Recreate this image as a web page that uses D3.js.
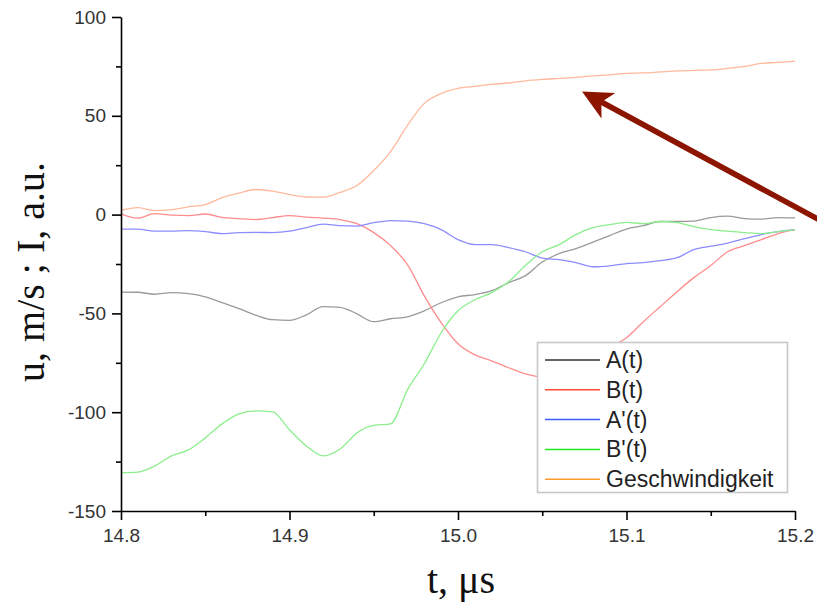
<!DOCTYPE html>
<html>
<head>
<meta charset="utf-8">
<script src="https://cdn.jsdelivr.net/npm/d3@7"></script>
<style>
  html, body { margin: 0; padding: 0; background: #fff; }
  svg { display: block; }
</style>
</head>
<body>
<svg id="chart" width="817" height="604"></svg>
<script>
// ---------------- data ----------------
const time = [14.80,14.81,14.82,14.83,14.84,14.85,14.86,14.87,14.88,14.89,
              14.90,14.91,14.92,14.93,14.94,14.95,14.96,14.97,14.98,14.99,
              15.00,15.01,15.02,15.03,15.04,15.05,15.06,15.07,15.08,15.09,
              15.10,15.11,15.12,15.13,15.14,15.15,15.16,15.17,15.18,15.19,15.20];

const seriesA = [-39.2,-39.3,-40.3,-39.5,-40.0,-41.6,-44.6,-47.6,-50.9,-53.2,
                 -53.5,-50.7,-46.6,-46.9,-50.2,-54.2,-52.7,-51.7,-48.7,-44.6,
                 -41.6,-40.5,-38.5,-34.5,-30.9,-24.0,-19.8,-17.2,-13.9,-10.6,
                 -7.3,-5.6,-3.5,-3.5,-3.3,-1.5,-0.8,-2.0,-2.3,-1.5,-1.7];

const seriesB = [0.4,-1.8,0.5,-0.3,-0.5,0.3,-1.4,-2.0,-2.5,-1.5,
                 -0.5,-1.3,-1.8,-2.5,-4.6,-9.1,-15.7,-25.3,-41.1,-54.7,
                 -65.4,-71.0,-74.0,-77.5,-80.6,-82.1,-81.1,-77.5,-73.5,-67.4,
                 -62.3,-54.2,-46.6,-39.0,-31.9,-25.8,-18.8,-15.7,-12.7,-9.6,-7.6];

const seriesA2 = [-7.3,-7.4,-8.4,-8.4,-8.1,-8.6,-9.6,-9.1,-9.0,-9.1,
                  -8.4,-6.6,-4.8,-5.6,-5.8,-4.1,-3.0,-3.3,-4.6,-7.6,
                  -12.7,-15.2,-15.2,-16.7,-18.8,-22.0,-22.8,-24.3,-26.4,-25.9,
                  -24.8,-24.3,-23.3,-21.8,-17.7,-16.0,-14.4,-12.2,-10.1,-8.6,-7.6];

const seriesB2 = [-130.6,-130.3,-127.2,-122.1,-119.1,-113.0,-105.9,-100.9,-99.3,-99.8,
                  -108.9,-117.1,-122.1,-118.6,-110.5,-106.7,-105.9,-88.7,-75.5,-59.8,
                  -48.7,-43.1,-39.5,-34.0,-25.8,-18.8,-15.2,-10.1,-6.6,-5.1,
                  -3.9,-4.6,-3.5,-4.1,-6.1,-7.6,-8.4,-9.1,-9.6,-8.6,-7.6];

const seriesV = [2.2,3.5,2.0,2.5,3.9,5.1,8.6,10.9,12.7,11.9,
                 10.1,8.9,8.8,11.2,14.7,22.3,31.9,45.1,56.3,61.3,
                 63.9,64.9,65.9,66.6,67.7,68.4,68.9,69.4,70.2,70.7,
                 71.5,71.7,72.2,72.7,73.0,73.2,74.0,75.0,76.5,77.0,77.7];

const seriesNames = ["A(t)", "B(t)", "A'(t)", "B'(t)", "Geschwindigkeit"];
const legendColors = ["#333333", "#ff4a3a", "#3a5cff", "#1ee81e", "#ff9a2e"];
const curveColors  = ["#9a9a9a", "#ff8c8c", "#8c8cff", "#8cee8c", "#ffb99c"];

const xTicks = [14.8, 14.9, 15.0, 15.1, 15.2];
const xMinorTicks = [14.85, 14.95, 15.05, 15.15];
const yTicks = [-150, -100, -50, 0, 50, 100];
const yMinorTicks = [-125, -75, -25, 25, 75];

// annotation arrow (data units): from tail to head
const arrowTail = [15.214, -2.5];
const arrowHead = [15.0736, 62.3];

// ---------------- drawing ----------------
const svg = d3.select("#chart");

const x = d3.scaleLinear().domain([14.8, 15.2]).range([121, 795]);
const y = d3.scaleLinear().domain([-150, 100]).range([511, 17]);

const tickFont = "'Liberation Sans', Arial, sans-serif";

// curves
const allSeries = [seriesA, seriesB, seriesA2, seriesB2, seriesV];
const line = d3.line()
  .x((d, i) => x(time[i]))
  .y(d => y(d))
  .curve(d3.curveMonotoneX);

const curves = svg.append("g").attr("class", "curves");
allSeries.forEach((s, k) => {
  curves.append("path")
    .datum(s)
    .attr("d", line)
    .attr("fill", "none")
    .attr("stroke", curveColors[k])
    .attr("stroke-width", 1.3)
    .attr("stroke-linejoin", "round");
});

// axes
function styleAxis(g) {
  g.selectAll(".domain").attr("stroke", "#000").attr("stroke-width", 1.6);
  g.selectAll(".tick line").attr("stroke", "#000").attr("stroke-width", 1.6);
  g.selectAll(".tick text")
    .attr("fill", "#333")
    .style("font-family", tickFont)
    .style("font-size", "19px");
}

const xAxisG = svg.append("g")
  .attr("transform", `translate(0,${y(-150)})`)
  .call(d3.axisBottom(x).tickValues(xTicks).tickSizeInner(9).tickSizeOuter(0)
        .tickPadding(9).tickFormat(d => d.toFixed(1)));
styleAxis(xAxisG);

const xMinorG = svg.append("g")
  .attr("transform", `translate(0,${y(-150)})`)
  .call(d3.axisBottom(x).tickValues(xMinorTicks).tickSizeInner(5).tickSizeOuter(0).tickFormat(""));
styleAxis(xMinorG);
xMinorG.select(".domain").remove();

const yAxisG = svg.append("g")
  .attr("transform", `translate(${x(14.8)},0)`)
  .call(d3.axisLeft(y).tickValues(yTicks).tickSizeInner(9).tickSizeOuter(0).tickPadding(6)
        .tickFormat(d => String(d)));
styleAxis(yAxisG);

const yMinorG = svg.append("g")
  .attr("transform", `translate(${x(14.8)},0)`)
  .call(d3.axisLeft(y).tickValues(yMinorTicks).tickSizeInner(5).tickSizeOuter(0).tickFormat(""));
styleAxis(yMinorG);
yMinorG.select(".domain").remove();

// axis titles
const serif = "'Liberation Serif', 'Times New Roman', serif";
svg.append("text")
  .attr("x", 461).attr("y", 593)
  .attr("text-anchor", "middle")
  .style("font-family", serif).style("font-size", "40px")
  .attr("fill", "#111")
  .text("t, \u03bcs");

svg.append("text")
  .attr("transform", "translate(44,272) rotate(-90)")
  .attr("text-anchor", "middle")
  .style("font-family", serif).style("font-size", "40px")
  .attr("fill", "#111")
  .text("u, m/s ; I, a.u.");

// legend
const legend = svg.append("g").attr("class", "legend");
legend.append("rect")
  .attr("x", 537.5).attr("y", 342.5).attr("width", 250).attr("height", 150)
  .attr("fill", "#fff").attr("stroke", "#c8c8c8").attr("stroke-width", 1.6);
seriesNames.forEach((name, k) => {
  const ry = 360 + k * 29.8;
  legend.append("line")
    .attr("x1", 545).attr("x2", 600).attr("y1", ry).attr("y2", ry)
    .attr("stroke", legendColors[k]).attr("stroke-width", 1.5);
  legend.append("text")
    .attr("x", 606).attr("y", ry + 8)
    .style("font-family", tickFont).style("font-size", "23px")
    .attr("fill", "#222")
    .text(name);
});

// annotation arrow
const arrowColor = "#8c1500";
const tx = x(arrowTail[0]), ty = y(arrowTail[1]);
const hx = x(arrowHead[0]), hy = y(arrowHead[1]);
const len = Math.hypot(tx - hx, ty - hy);
const ux = (tx - hx) / len, uy = (ty - hy) / len; // unit from head toward tail
const px = -uy, py = ux;
const headLen = 30, halfW = 14.5, notch = 22;
svg.append("line")
  .attr("x1", tx).attr("y1", ty)
  .attr("x2", hx + ux * notch).attr("y2", hy + uy * notch)
  .attr("stroke", arrowColor).attr("stroke-width", 5.6);
svg.append("path")
  .attr("d", `M${hx},${hy}` +
             `L${hx + ux * headLen + px * halfW},${hy + uy * headLen + py * halfW}` +
             `L${hx + ux * notch},${hy + uy * notch}` +
             `L${hx + ux * headLen - px * halfW},${hy + uy * headLen - py * halfW}Z`)
  .attr("fill", arrowColor);
</script>
</body>
</html>
